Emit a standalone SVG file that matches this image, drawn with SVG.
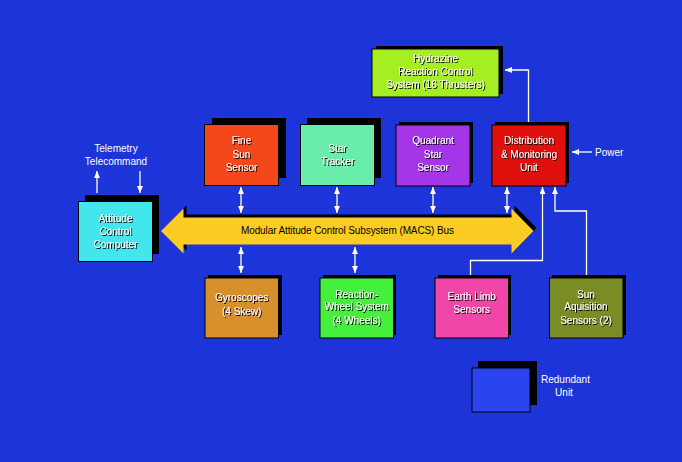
<svg xmlns="http://www.w3.org/2000/svg" width="682" height="462" viewBox="0 0 682 462">
<defs>
<filter id="ts" x="-10%" y="-30%" width="130%" height="170%">
<feDropShadow dx="1" dy="1" stdDeviation="0" flood-color="#000" flood-opacity="1"/>
</filter>
<marker id="ah" viewBox="0 0 7 6" refX="7" refY="3" markerWidth="7" markerHeight="6" markerUnits="userSpaceOnUse" orient="auto-start-reverse">
<path d="M0,0 L7,3 L0,6 z" fill="#fff"/>
</marker>
</defs>
<style>
.sh{fill:#000}
.bx{stroke:#000;stroke-width:1}
.lb{font-family:"Liberation Sans",Arial,sans-serif;font-size:10px;fill:#fff;text-anchor:middle;filter:url(#ts)}
.pl{font-family:"Liberation Sans",Arial,sans-serif;font-size:10px;fill:#fff;text-anchor:middle}
.cn{stroke:#fff;stroke-width:1.3;fill:none}
</style>
<rect width="682" height="462" fill="#1c34d8"/>

<g id="connectors">
<line class="cn" x1="97" y1="193" x2="97" y2="171" marker-end="url(#ah)"/>
<line class="cn" x1="140" y1="171" x2="140" y2="193" marker-end="url(#ah)"/>
<line class="cn" x1="241" y1="187" x2="241" y2="213" marker-start="url(#ah)" marker-end="url(#ah)"/>
<line class="cn" x1="337" y1="187" x2="337" y2="213" marker-start="url(#ah)" marker-end="url(#ah)"/>
<line class="cn" x1="433" y1="187" x2="433" y2="213" marker-start="url(#ah)" marker-end="url(#ah)"/>
<line class="cn" x1="507" y1="187" x2="507" y2="213" marker-start="url(#ah)" marker-end="url(#ah)"/>
<line class="cn" x1="241" y1="247" x2="241" y2="273" marker-start="url(#ah)" marker-end="url(#ah)"/>
<line class="cn" x1="355" y1="247" x2="355" y2="273" marker-start="url(#ah)" marker-end="url(#ah)"/>
<polyline class="cn" points="528.5,122 528.5,70 505,70" marker-end="url(#ah)"/>
<line class="cn" x1="592" y1="152" x2="572" y2="152" marker-end="url(#ah)"/>
<polyline class="cn" points="470.5,277 470.5,260.5 542.5,260.5 542.5,187" marker-end="url(#ah)"/>
<polyline class="cn" points="586.5,277 586.5,211 555,211 555,187" marker-end="url(#ah)"/>
</g>

<g id="bus">
<polygon class="sh" points="164,228 186.5,205.5 186.5,214.5 514.5,214.5 514.5,205.5 536.5,228 514.5,250.5 514.5,241.5 186.5,241.5 186.5,250.5"/>
<polygon fill="#fccc24" points="161,231 183.5,208.5 183.5,217.5 511.5,217.5 511.5,208.5 533.5,231 511.5,253.5 511.5,244.5 183.5,244.5 183.5,253.5"/>
<text x="347.5" y="234" font-family="Liberation Sans, Arial, sans-serif" font-size="10" fill="#000" text-anchor="middle" textLength="213" lengthAdjust="spacing">Modular Attitude Control Subsystem (MACS) Bus</text>
</g>

<g id="telemetry">
<text class="pl" x="116" y="152">Telemetry</text>
<text class="pl" x="116" y="165">Telecommand</text>
</g>

<g id="power">
<text class="pl" x="595" y="156" text-anchor="start" style="text-anchor:start">Power</text>
</g>

<g id="hydrazine">
<rect class="sh" x="376" y="46" width="127" height="48"/>
<rect class="bx" x="372" y="49" width="127" height="48" fill="#a4ee22"/>
<text class="lb" x="435.5" y="62">Hydrazine</text>
<text class="lb" x="435.5" y="75">Reaction Control</text>
<text class="lb" x="435.5" y="88">System (16 Thrusters)</text>
</g>

<g id="fine-sun-sensor">
<rect class="sh" x="212" y="118" width="74" height="60"/>
<rect class="bx" x="204.5" y="124.5" width="74" height="61" fill="#f5481a"/>
<text class="lb" x="241.5" y="144">Fine</text>
<text class="lb" x="241.5" y="157.5">Sun</text>
<text class="lb" x="241.5" y="170.5">Sensor</text>
</g>

<g id="star-tracker">
<rect class="sh" x="307" y="118" width="74" height="60"/>
<rect class="bx" x="300.5" y="124.5" width="74" height="61" fill="#68eeaa"/>
<text class="lb" x="337.5" y="152">Star</text>
<text class="lb" x="337.5" y="164.5">Tracker</text>
</g>

<g id="quadrant-star-sensor">
<rect class="sh" x="399" y="122" width="74" height="61"/>
<rect class="bx" x="396" y="125" width="74" height="61" fill="#a436e8"/>
<text class="lb" x="433" y="144">Quadrant</text>
<text class="lb" x="433" y="157.5">Star</text>
<text class="lb" x="433" y="170.5">Sensor</text>
</g>

<g id="distribution-monitoring-unit">
<rect class="sh" x="495" y="122" width="74" height="61"/>
<rect class="bx" x="492" y="125" width="74" height="61" fill="#e0100c"/>
<text class="lb" x="529" y="144">Distribution</text>
<text class="lb" x="529" y="157.5">&amp; Monitoring</text>
<text class="lb" x="529" y="170.5">Unit</text>
</g>

<g id="attitude-control-computer">
<rect class="sh" x="85" y="195" width="74" height="59"/>
<rect class="bx" x="78.5" y="201.5" width="74" height="60" fill="#44e6ee"/>
<text class="lb" x="115.5" y="222">Attitude</text>
<text class="lb" x="115.5" y="235">Control</text>
<text class="lb" x="115.5" y="247.5">Computer</text>
</g>

<g id="gyroscopes">
<rect class="sh" x="208" y="275" width="74" height="60"/>
<rect class="bx" x="205" y="278" width="73.5" height="60" fill="#d8902c"/>
<text class="lb" x="241.7" y="301">Gyroscopes</text>
<text class="lb" x="241.7" y="314.5">(4 Skew)</text>
</g>

<g id="reaction-wheel-system">
<rect class="sh" x="323" y="275" width="73" height="60"/>
<rect class="bx" x="320" y="278" width="73.5" height="60" fill="#44f03c"/>
<text class="lb" x="356.7" y="297.5">Reaction-</text>
<text class="lb" x="356.7" y="310">Wheel System</text>
<text class="lb" x="356.7" y="323.5">(4 Wheels)</text>
</g>

<g id="earth-limb-sensors">
<rect class="sh" x="438" y="275" width="73" height="60"/>
<rect class="bx" x="435" y="278" width="73.5" height="60" fill="#f046a8"/>
<text class="lb" x="471.7" y="299.5">Earth Limb</text>
<text class="lb" x="471.7" y="313">Sensors</text>
</g>

<g id="sun-aquisition-sensors">
<rect class="sh" x="552" y="275" width="74" height="60"/>
<rect class="bx" x="549.5" y="278" width="73.5" height="60" fill="#7c8c24"/>
<text class="lb" x="586" y="297.5">Sun</text>
<text class="lb" x="586" y="310">Aquisition</text>
<text class="lb" x="586" y="323.5">Sensors (2)</text>
</g>

<g id="redundant-unit">
<rect class="sh" x="478" y="361" width="59" height="44"/>
<rect class="bx" x="472" y="368" width="58" height="44" fill="#2a44ee"/>
<text class="pl" x="541" y="383" style="text-anchor:start">Redundant</text>
<text class="pl" x="564" y="396">Unit</text>
</g>
</svg>
